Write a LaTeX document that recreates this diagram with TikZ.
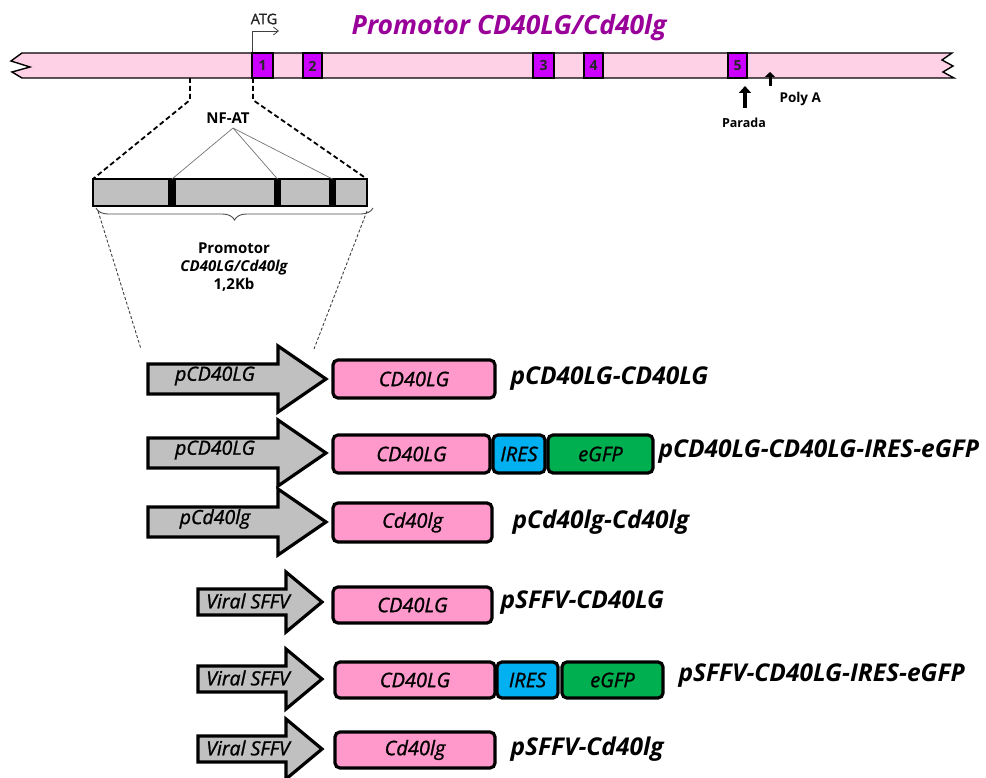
\documentclass[tikz,border=0pt]{standalone}
\usepackage{fontspec}
\setmainfont{Open Sans}
\newfontfamily\semib[FakeBold=1.2]{Open Sans}
\usetikzlibrary{arrows.meta,decorations.pathreplacing}
\definecolor{chrom}{HTML}{FFD1E6}
\definecolor{exon}{HTML}{CC00FF}
\definecolor{ttl}{HTML}{990099}
\definecolor{gene}{HTML}{FF99CC}
\definecolor{ires}{HTML}{00B0F0}
\definecolor{egfp}{HTML}{00B050}
\definecolor{prom}{HTML}{C0C0C0}
\begin{document}
\begin{tikzpicture}[x=1pt,y=-1pt,
  exonbox/.style={draw=black,line width=1.4pt,fill=exon},
  exonlbl/.style={font=\bfseries\fontsize{14}{14}\selectfont,text=black!85},
  genebox/.style={draw=black,line width=3.2pt,rounded corners=5pt},
  inlbl/.style={font=\semib\itshape\fontsize{20}{20}\selectfont},
  arrlbl/.style={font=\semib\itshape\fontsize{19.5}{19.5}\selectfont},
  conlbl/.style={font=\bfseries\itshape\fontsize{24.5}{24.5}\selectfont,anchor=west},
  promarrow/.style={draw=black,line width=3.2pt,fill=prom,line join=miter},
  smalllbl/.style={font=\bfseries\fontsize{13.5}{13.5}\selectfont},
  bigdash/.style={dashed,line width=1.8pt,dash pattern=on 5pt off 3pt},
  finedash/.style={dashed,line width=0.9pt,dash pattern=on 3pt off 2pt,black!75}]
\useasboundingbox (0,0) rectangle (986,778);
% chromosome
\draw[fill=chrom,line width=1.4pt] (22,53) -- (952,53) -- (942,60) -- (953,66) -- (943,72) -- (954,78)
  -- (22,78) -- (12,72) -- (30,67) -- (11,61) -- cycle;
\foreach \a/\b/\n in {252/273/1,303/322/2,533/554/3,584/603/4,728/747/5}{
  \draw[exonbox] (\a,53) rectangle (\b,78);
  \node[exonlbl] (ex\n) at ({(\a+\b)/2},66) {\n};
}
\node[font=\bfseries\itshape\fontsize{26.5}{26.5}\selectfont,text=ttl] (title) at (509,28) {Promotor CD40LG/Cd40lg};
% ATG
\coordinate (atgs) at (252,52);
\coordinate (atgc) at (252,31);
\coordinate (atge) at (279,31);
\draw[line width=0.8pt,black!75,-{Straight Barb[length=5pt,width=8pt]}] (atgs) -- (atgc) -- (atge);
\node[font=\semib\fontsize{14.5}{14.5}\selectfont,text=black!85] (atg) at (264,19) {ATG};
% poly A & parada
\coordinate (pa1) at (770,86);
\coordinate (pa2) at (770,72);
\draw[line width=3pt,-{Triangle[length=5pt,width=10pt]}] (pa1) -- (pa2);
\node[smalllbl,anchor=west] (polya) at (776,99) {Poly A};
\coordinate (pr1) at (745,108);
\coordinate (pr2) at (745,86);
\draw[line width=3.5pt,-{Triangle[length=7pt,width=12pt]}] (pr1) -- (pr2);
\node[font=\bfseries\fontsize{12.5}{12.5}\selectfont] (parada) at (744,123) {Parada};
% dashed zoom lines
\coordinate (z1) at (190,78);
\coordinate (z2) at (190,100);
\coordinate (z3) at (253,78);
\coordinate (z4) at (253,100);
% promoter box
\draw[fill=prom,line width=1.8pt] (93,179) rectangle (367,206);
\foreach \a/\b/\n in {168/176/1,274/281/2,329/336/3}{
  \fill[black] (\a,179) rectangle (\b,206);
  \coordinate (nf\n) at ({(\a+\b)/2},179);
}
\coordinate (pbl) at (93,179);
\coordinate (pbr) at (367,179);
\draw[bigdash] (z1) -- (z2) -- (pbl);
\draw[bigdash] (z3) -- (z4) -- (pbr);
\node[font=\bfseries\fontsize{15}{15}\selectfont] (nfat) at (228,118) {NF-AT};
\coordinate (nfo) at (233,128);
\draw[black!55,line width=0.7pt] (nfo) -- (nf1) (nfo) -- (nf2) (nfo) -- (nf3);
\coordinate (br1) at (96,208);
\coordinate (br2) at (373,208);
\draw[black!70,line width=0.9pt,decorate,decoration={brace,mirror,amplitude=12pt}] (br1) -- (br2);
\node[font=\bfseries\fontsize{15}{15}\selectfont,align=center] (promtxt) at (234,267)
  {Promotor\\[3pt]\itshape CD40LG/Cd40lg\\[3pt]1,2Kb};
\coordinate (f1) at (98,211);
\coordinate (f2) at (141,349);
\coordinate (f3) at (367,211);
\coordinate (f4) at (314,349);
\draw[finedash] (f1) -- (f2);
\draw[finedash] (f3) -- (f4);
% promoter arrows
\foreach \y/\n in {379/1,453/2,522/3}{
  \draw[promarrow] (148,\y-15) -- (278,\y-15) -- (278,\y-33) -- (326,\y) -- (278,\y+33) -- (278,\y+15) -- (148,\y+15) -- cycle;
  \node[arrlbl] (pa\n) at (215,\y-3) {\ifnum\n=3 pCd40lg\else pCD40LG\fi};
}
\foreach \y/\n in {602/4,679/5,749/6}{
  \draw[promarrow] (198,\y-13) -- (286,\y-13) -- (286,\y-30) -- (322,\y) -- (286,\y+30) -- (286,\y+13) -- (198,\y+13) -- cycle;
  \node[arrlbl] (pa\n) at (248,\y-1) {Viral SFFV};
}
% gene boxes
\draw[genebox,fill=gene] (333,360) rectangle node[inlbl] (g1) {CD40LG} (495,398);
\node[conlbl] (c1) at (507,379) {pCD40LG-CD40LG};
\draw[genebox,fill=gene] (333,435) rectangle node[inlbl] (g2) {CD40LG} (490,473);
\draw[genebox,fill=ires] (493,435) rectangle node[inlbl] (i2) {IRES} (545,473);
\draw[genebox,fill=egfp] (548,435) rectangle node[inlbl] (e2) {eGFP} (653,473);
\node[conlbl] (c2) at (655,452) {pCD40LG-CD40LG-IRES-eGFP};
\draw[genebox,fill=gene] (333,503) rectangle node[inlbl] (g3) {Cd40lg} (492,542);
\node[conlbl] (c3) at (509,522) {pCd40lg-Cd40lg};
\draw[genebox,fill=gene] (333,587) rectangle node[inlbl] (g4) {CD40LG} (492,623);
\node[conlbl] (c4) at (497,603) {pSFFV-CD40LG};
\draw[genebox,fill=gene] (335,662) rectangle node[inlbl] (g5) {CD40LG} (495,698);
\draw[genebox,fill=ires] (497,662) rectangle node[inlbl] (i5) {IRES} (558,698);
\draw[genebox,fill=egfp] (562,662) rectangle node[inlbl] (e5) {eGFP} (663,698);
\node[conlbl] (c5) at (675,676) {pSFFV-CD40LG-IRES-eGFP};
\draw[genebox,fill=gene] (335,732) rectangle node[inlbl] (g6) {Cd40lg} (495,768);
\node[conlbl] (c6) at (507,749) {pSFFV-Cd40lg};
\end{tikzpicture}
\end{document}
